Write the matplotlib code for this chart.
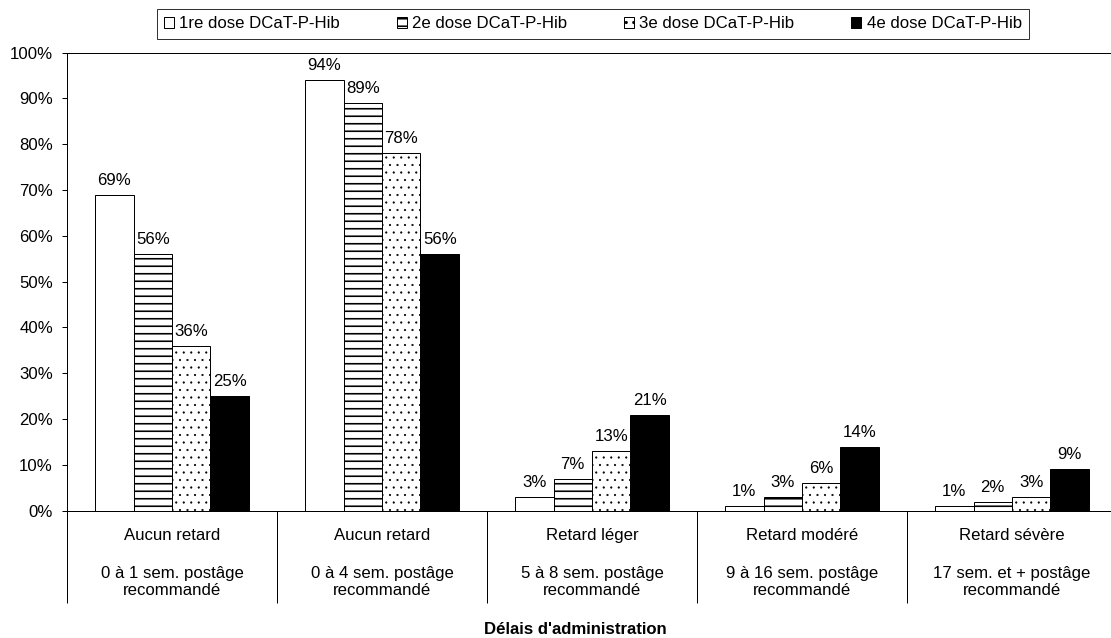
import matplotlib
matplotlib.use("Agg")
import matplotlib.pyplot as plt
import numpy as np
from matplotlib.patches import Patch

DPI = 90
W, H = 1111, 638

# categories along the x axis (two text levels per group)
categories = ["Aucun retard", "Aucun retard", "Retard léger", "Retard modéré", "Retard sévère"]
sublabels = ["0 à 1 sem. postâge\nrecommandé",
             "0 à 4 sem. postâge\nrecommandé",
             "5 à 8 sem. postâge\nrecommandé",
             "9 à 16 sem. postâge\nrecommandé",
             "17 sem. et + postâge\nrecommandé"]

series = ["1re dose DCaT-P-Hib", "2e dose DCaT-P-Hib",
          "3e dose DCaT-P-Hib", "4e dose DCaT-P-Hib"]

# percentages per dose, one list per series
dose1 = [69, 94, 3, 1, 1]
dose2 = [56, 89, 7, 3, 2]
dose3 = [36, 78, 13, 6, 3]
dose4 = [25, 56, 21, 14, 9]
values = [dose1, dose2, dose3, dose4]

yticks = [0, 10, 20, 30, 40, 50, 60, 70, 80, 90, 100]

styles = [dict(facecolor="white", hatch=None, hlw=None),
          dict(facecolor="white", hatch="--", hlw=1.3),
          dict(facecolor="white", hatch="..", hlw=0.5),
          dict(facecolor="black", hatch=None, hlw=None)]

plt.rcParams["font.family"] = ["Liberation Sans", "DejaVu Sans"]
plt.rcParams["hatch.linewidth"] = 1.3
FS = 13.4

px = lambda p: p * 72.0 / DPI  # pixels -> points


def thin_hatch(patch, lw):
    # per-patch hatch width (matplotlib >= 3.10), otherwise keep rc default
    if lw is not None and hasattr(patch, "set_hatch_linewidth"):
        patch.set_hatch_linewidth(lw)


fig = plt.figure(figsize=(W / DPI, H / DPI), dpi=DPI)
fig.patch.set_facecolor("white")
ax = fig.add_axes([67 / W, (H - 510.7) / H, 1050 / W, 458 / H])

bw = 0.1833
x = np.arange(len(categories)) + 0.5
for k, (vals, st) in enumerate(zip(values, styles)):
    pos = x + (k - 1.5) * bw
    bars = ax.bar(pos, vals, width=bw, facecolor=st["facecolor"], hatch=st["hatch"],
                  edgecolor="black", linewidth=0.8)
    for b in bars:
        thin_hatch(b, st["hlw"])
    for xp, v in zip(pos, vals):
        ax.annotate(f"{v}%", (xp, v), xytext=(0, px(10)), textcoords="offset points",
                    ha="center", va="baseline", fontsize=FS)

ax.set_xlim(0, len(categories))
ax.set_ylim(0, 100)
ax.set_yticks(yticks)
ax.set_yticklabels([f"{t}%" for t in yticks], fontsize=FS)
ax.tick_params(axis="y", length=px(5), width=0.8, pad=px(9), direction="out")

# long outward ticks at group boundaries act as separators
ax.set_xticks(np.arange(len(categories) + 1))
ax.set_xticklabels([])
ax.tick_params(axis="x", length=px(92), width=0.8, direction="out")

for s in ["left", "bottom", "top"]:
    ax.spines[s].set_linewidth(0.8)
ax.spines["right"].set_visible(False)

tr = ax.get_xaxis_transform()
for xc, cat, sub in zip(x, categories, sublabels):
    ax.text(xc, -0.0552, cat, transform=tr, ha="center", va="center", fontsize=FS)
    ax.text(xc, -0.1563, sub, transform=tr, ha="center", va="center",
            fontsize=FS, linespacing=1.2)

fig.text(575 / W, (H - 629) / H, "Délais d'administration", ha="center", va="center",
         fontsize=FS, fontweight="bold")

handles = []
for st, lab in zip(styles, series):
    h = Patch(facecolor=st["facecolor"], hatch=st["hatch"], edgecolor="black",
              linewidth=0.8, label=lab)
    thin_hatch(h, st["hlw"])
    handles.append(h)
leg = fig.legend(handles=handles, loc="center", bbox_to_anchor=(593 / W, (H - 24) / H),
                 ncol=4, fontsize=FS, frameon=True, fancybox=False, edgecolor="black",
                 handlelength=0.6, handleheight=0.6, handletextpad=0.3,
                 columnspacing=3.4, borderpad=0.45)
leg.get_frame().set_linewidth(0.8)

fig.savefig("out.png", dpi=DPI, facecolor="white")
